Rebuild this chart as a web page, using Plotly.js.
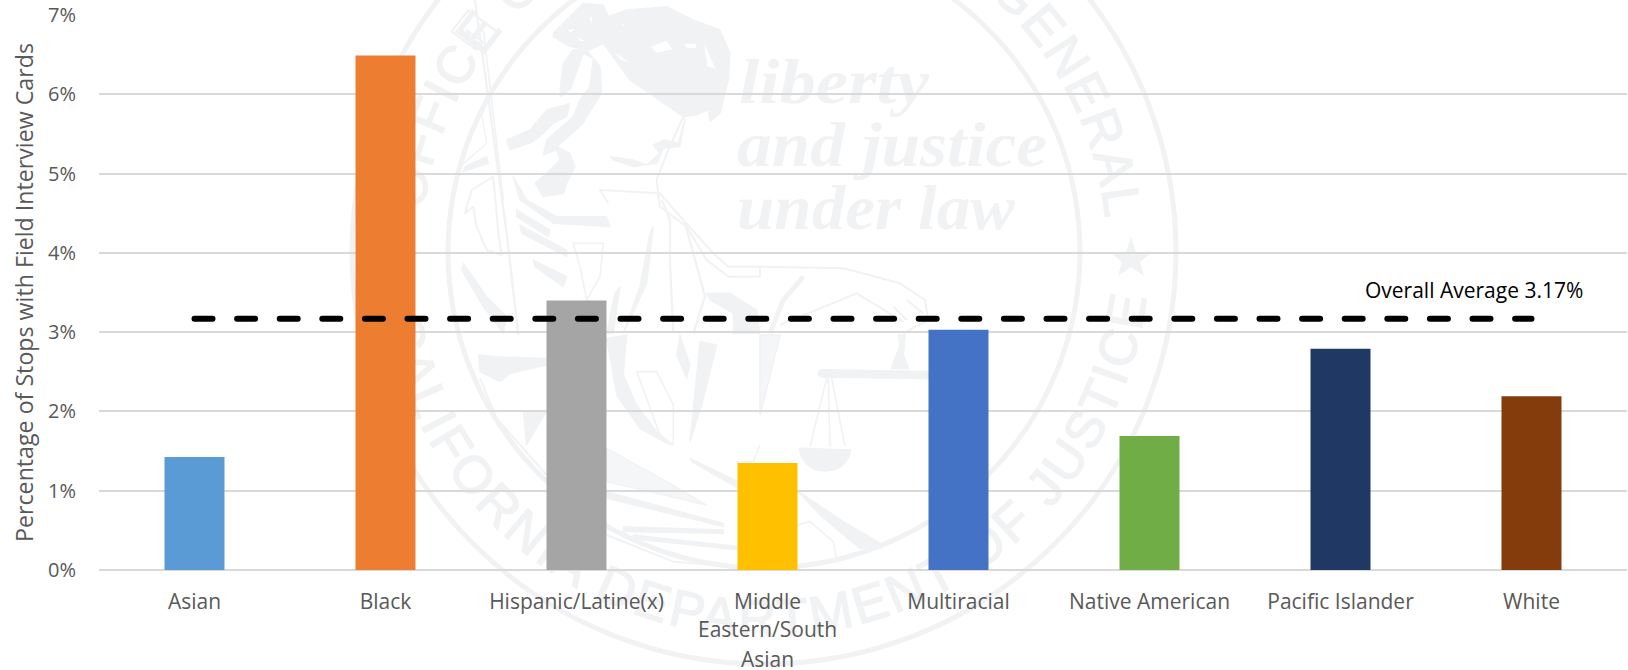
<!DOCTYPE html>
<html>
<head>
<meta charset="utf-8">
<title>Stops with Field Interview Cards</title>
<script src="https://cdn.plot.ly/plotly-3.0.1.min.js"></script>
<style>
html,body{margin:0;padding:0;background:#fff;width:1628px;height:670px;overflow:hidden}
#seal{position:absolute;left:0;top:0;z-index:0}
#chart{position:absolute;left:0;top:0;z-index:1;width:1628px;height:670px}
.scatterlayer .js-line{stroke-linecap:round}
</style>
</head>
<body>
<svg id="seal" width="1628" height="670" viewBox="0 0 1628 670" xmlns="http://www.w3.org/2000/svg">
  <defs>
    <path id="topArc" d="M 423.6 210.2 A 343 343 0 0 1 1105 216"/>
    <path id="botArc" d="M 385 319 A 385 385 0 0 0 1146 299"/>
  </defs>
  <g fill="none" stroke="#f1f2f4" stroke-width="5">
    <circle cx="764" cy="252" r="412"/>
    <circle cx="764" cy="252" r="316"/>
  </g>
  <g fill="#f1f2f4" stroke="#f1f2f4" stroke-width="1.5" font-family="Liberation Sans" font-size="52">
    <text><textPath href="#topArc" textLength="1000" lengthAdjust="spacing">OFFICE OF THE ATTORNEY GENERAL</textPath></text>
    <text><textPath href="#botArc" textLength="1095" lengthAdjust="spacing">CALIFORNIA DEPARTMENT OF JUSTICE</textPath></text>
  </g>
  <g fill="#f1f2f4" font-family="Liberation Serif" font-weight="bold" font-style="italic" font-size="64">
    <text x="739" y="103" textLength="190" lengthAdjust="spacingAndGlyphs">liberty</text>
    <text x="737" y="166" textLength="310" lengthAdjust="spacingAndGlyphs">and justice</text>
    <text x="737" y="229" textLength="278" lengthAdjust="spacingAndGlyphs">under law</text>
  </g>
  <polygon fill="#f1f2f4" points="1131,237 1136,252 1151,253 1140,262 1144,276 1131,267 1118,276 1122,262 1111,253 1126,252"/>
  <!-- upper part of the figure -->
  <g transform="translate(340,0) scale(0.3333)" fill="#f1f2f4" stroke="#f1f2f4" stroke-width="4" stroke-linejoin="round">
    <path fill-rule="evenodd" d="M640 100 L730 10 L790 15 L805 50 L860 30 L980 20 L1060 60 L1140 90 L1170 160 L1165 240 L1140 340 L1110 365 L1105 330 L1070 345 L1030 350 L870 240 L790 130 L750 150 L690 140 L640 110 Z
      M680 90 L720 80 L690 100 Z M745 50 L760 50 L755 80 Z M840 75 L860 65 L850 80 Z M700 100 L740 125 L720 125 Z M930 140 L980 120 L1000 150 L950 160 Z M1030 130 L1070 130 L1070 145 L1040 145 Z M1090 120 L1130 210 L1100 200 Z M800 130 L920 210 L840 180 Z M970 240 L1070 320 L990 280 Z"/>
    <path d="M500 420 L570 390 L620 330 L690 310 L680 350 L640 370 L610 400 L580 425 L510 450 Z"/>
    <path fill-rule="evenodd" d="M700 150 L740 150 L780 200 L785 280 L740 350 L730 370 L650 440 L690 460 L705 500 L680 550 L670 580 L610 590 L585 550 L620 520 L660 480 L650 450 L610 465 L620 420 L700 350 L720 300 L750 260 L760 175 L730 160 L690 270 L660 270 L670 190 Z"/>
    <path d="M790 130 L1030 260 L1080 300 L1070 330 Z"/>
    <path d="M660 290 L690 160 L700 150 L680 280 Z"/>
    <path d="M810 470 L880 480 L920 495 L960 460 L940 435 L975 420 L1015 430 L1035 355 L1020 440 L970 445 L950 490 L880 500 L820 480 Z"/>
    <path d="M520 530 L560 600 L650 650 L800 650 L810 680 L640 670 L540 600 Z"/>
    <path d="M530 630 L630 690 L625 710 L530 650 Z"/>
    <path d="M540 675 L680 750 L680 770 L545 700 Z"/>
    <path d="M580 780 L680 830 L670 860 L585 800 Z"/>
    <path d="M375 500 L440 470 L445 490 L370 515 Z"/>
    <path d="M360 500 L440 430 L425 340 L395 400 Z" fill="none"/>
    <path d="M395 570 L460 530 L475 700 L485 765 L440 750 L410 680 L400 620 L375 640 Z" fill="none" stroke-width="6"/>
    <path d="M370 790 L440 890 L500 950 L490 1000 L430 920 L365 810 Z"/>
    <path d="M805 610 L780 570 L960 580 L1030 660 L1120 760 L1165 800 L1260 800 L1260 830 L1165 830 L1100 780 L1040 680 L960 620 L950 540 L985 450 L1030 350" fill="none" stroke-width="6"/>
    <path d="M940 680 L920 850 L870 960 L850 1000 L900 860 L930 700 Z"/>
    <path d="M840 860 L820 1000 L800 1000 L825 880 Z"/>
    <path d="M700 730 L790 730 L780 830 L740 900 L720 800 Z" fill="none" stroke-width="5"/>
    <path d="M1100 880 L1170 880 L1250 930 L1260 1000 L1180 1000 L1180 940 L1110 900 Z"/>
    <path d="M965 600 L990 660 L990 790 L1000 1000" fill="none" stroke-width="7"/>
    <path d="M1035 670 L1060 760 L1095 890 L1060 1000" fill="none" stroke-width="7"/>
    <path d="M405 0 L500 700 L535 1005" fill="none" stroke-width="7"/>
    <path d="M430 90 L490 600" fill="none" stroke-width="5"/>
    <path d="M335 95 L385 30 L470 95 L440 135 L380 90 L410 150 Z" fill="none" stroke-width="6"/>
  </g>
  <!-- lower part of the figure -->
  <g transform="translate(340,335) scale(0.3333)" fill="#f1f2f4" stroke="#f1f2f4" stroke-width="4" stroke-linejoin="round">
    <path d="M415 60 L470 65 L620 70 L620 90 L510 115 L480 140 L420 110 Z"/>
    <path d="M420 130 L470 250 L620 420" fill="none" stroke-width="6"/>
    <path d="M550 230 L620 230 L600 260 L560 330 Z"/>
    <path d="M800 10 L830 180 L900 280 L990 330 L950 290 L890 210 L850 120 L860 0 Z"/>
    <path d="M890 110 L960 300 L1000 330 L1000 210 L950 110 Z" fill="none" stroke-width="5"/>
    <path d="M1020 0 L1050 90 L1040 130 L1010 60 Z"/>
    <path d="M1080 20 L1050 320 L1085 210 L1130 30 Z"/>
    <path d="M800 340 L980 440 L1100 510 L800 440 Z" fill-opacity="0.7"/>
    <path d="M800 470 L1150 565 L1150 575 L800 490 Z"/>
    <path d="M850 575 L1150 585 L1150 595 L850 590 Z"/>
    <path d="M880 600 L1200 635 L1200 645 L885 612 Z"/>
    <path d="M1050 370 L1195 440 L1195 460 L1055 380 Z"/>
    <path d="M800 600 L1000 680 L1195 695" fill="none" stroke-width="6"/>
    <path d="M1260 330 L1240 380 L1190 380" fill="none" stroke-width="5"/>
  </g>
  <!-- scales -->
  <g transform="translate(760,0) scale(0.3333)" fill="#f1f2f4" stroke="#f1f2f4" stroke-width="6" stroke-linejoin="round">
    <path d="M0 800 L250 805 L420 850 L495 900 L505 960 L430 1000" fill="none"/>
    <path d="M60 975 L290 880 L430 965" fill="none"/>
    <path d="M130 830 L70 900 L30 1000" fill="none" stroke-width="14"/>
    <path d="M440 900 L490 940 M400 920 L440 960" fill="none"/>
  </g>
  <g transform="translate(760,335) scale(0.3333)" fill="#f1f2f4" stroke="#f1f2f4" stroke-width="5" stroke-linejoin="round">
    <path d="M185 115 L505 120" fill="none" stroke-width="26" stroke-linecap="round"/>
    <path d="M395 100 L420 30 L415 0 L435 0 L430 60 L445 100 Z"/>
    <path d="M200 130 L150 335 M205 130 L210 335 M215 130 L255 335" fill="none"/>
    <path d="M118 340 L272 345 Q260 405 195 408 Q130 405 118 340 Z"/>
    <path d="M115 470 L180 540 L300 640 L370 630 L250 560 L130 480 Z"/>
    <path d="M370 630 L505 565" fill="none"/>
    <path d="M0 600 L150 560 L220 620 L230 680 L100 695 L0 700" fill="none"/>
    <path d="M0 0 L60 0 L0 240 Z" fill-opacity="0.7"/>
  </g>
</svg>
<div id="chart"></div>
<script>
var categories = ['Asian','Black','Hispanic/Latine(x)','Middle Eastern/South Asian','Multiracial','Native American','Pacific Islander','White'];
var tickLabels = ['Asian','Black','Hispanic/Latine(x)','Middle','Multiracial','Native American','Pacific Islander','White'];
var extraLabelLines = ['Eastern/South','Asian'];
var stopPercent = [1.425,6.49,3.40,1.35,3.03,1.69,2.79,2.19];
var overallAverage = [3.17,3.17,3.17,3.17,3.17,3.17,3.17,3.17];
var barColors = ['#5B9BD5','#ED7D31','#A5A5A5','#FFC000','#4472C4','#70AD47','#203864','#843C0C'];
var yTicks = [0,1,2,3,4,5,6,7];
var yTickLabels = ['0%','1%','2%','3%','4%','5%','6%','7%'];

var fontFamily = '"Open Sans", sans-serif';
var grey = '#595959';
var labelSize = 21;

var traces = [
  {type:'bar', x:categories, y:stopPercent, marker:{color:barColors, line:{width:0}}, showlegend:false, hoverinfo:'x+y'},
  {type:'scatter', mode:'lines', x:categories, y:overallAverage, line:{color:'#000000', width:6, dash:'18px,24.6px'}, showlegend:false, hoverinfo:'y'}
];

var annotations = [
  {xref:'paper', yref:'y', x:(1474-99)/1528, y:overallAverage[0], xanchor:'center', yanchor:'bottom', yshift:13,
   text:'Overall Average 3.17%', showarrow:false, font:{family:fontFamily, size:labelSize, color:'#000000'}}
];
extraLabelLines.forEach(function(t,i){
  annotations.push({xref:'x', yref:'paper', x:categories[3], y:0, xanchor:'center', yanchor:'top', yshift:-(43+29.5*i),
    text:t, showarrow:false, font:{family:fontFamily, size:labelSize, color:grey}});
});

var layout = {
  width:1628, height:670,
  margin:{l:99, r:1, t:15, b:100, pad:0},
  paper_bgcolor:'rgba(0,0,0,0)', plot_bgcolor:'rgba(0,0,0,0)',
  showlegend:false,
  bargap:0.686,
  font:{family:fontFamily, size:labelSize, color:grey},
  xaxis:{type:'category', categoryorder:'array', categoryarray:categories, tickvals:categories, ticktext:tickLabels,
         showgrid:false, zeroline:false, showline:false, ticks:'', ticklabelstandoff:17, tickangle:0,
         tickfont:{family:fontFamily, size:labelSize, color:grey}},
  yaxis:{range:[0,7], tickvals:yTicks, ticktext:yTickLabels, showgrid:true, gridcolor:'#d9d9d9', gridwidth:1.6,
         zeroline:true, zerolinecolor:'#d9d9d9', zerolinewidth:1.6, showline:false, ticks:'', ticklabelstandoff:22,
         tickfont:{family:fontFamily, size:20, color:grey},
         title:{text:'Percentage of Stops with Field Interview Cards', standoff:7, font:{family:fontFamily, size:23.2, color:grey}}},
  annotations:annotations
};
Plotly.newPlot('chart', traces, layout, {displayModeBar:false, responsive:false});
</script>
</body>
</html>
